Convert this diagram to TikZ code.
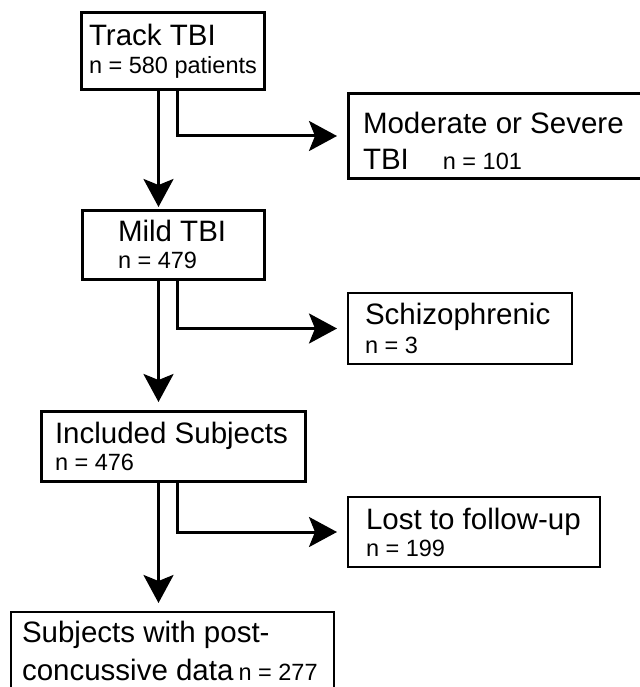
\documentclass[tikz,border=0pt]{standalone}
\usepackage{fontspec}
\setmainfont{Liberation Sans}
\usetikzlibrary{arrows.meta}

\hyphenpenalty=10000
\newcommand{\nsize}{\fontsize{23.5}{28}\selectfont}

\begin{document}
\begin{tikzpicture}[x=1pt, y=-1pt,
        caja/.style={draw, line width=3pt, anchor=north west, outer sep=0pt,
            inner ysep=0pt, align=flush left, font=\fontsize{29.5}{28}\selectfont},
        cajafina/.style={caja, line width=1.5pt},
        flujo/.style={line width=3pt, -{Stealth[length=28pt, width=30pt, inset=6pt]}}
    ]
        \useasboundingbox (0,0) rectangle (639,687);

        % Columna principal
        \node[caja, inner xsep=8pt, text width=167pt, minimum height=77pt] (total) at (81,13)
            {\mbox{Track TBI}\\\nsize\mbox{n = 580 patients}};
        \node[caja, inner xsep=36pt, text width=110pt, minimum height=69pt] (leve) at (82,210)
            {\mbox{Mild TBI}\\[-1pt]\nsize\mbox{n = 479}};
        \node[caja, inner xsep=14pt, text width=236pt, minimum height=70pt] (incluidos) at (41,411)
            {\mbox{Included Subjects}\\[-1pt]\nsize\mbox{n = 476}};
        \node[cajafina, inner xsep=11pt, text width=301pt, minimum height=77pt] (final) at (11,612)
            {\mbox{Subjects with post-}\\[10pt]\mbox{concussive data\hspace*{5pt}{\nsize n = 277}}};

        % Excluidos
        \node[caja, inner xsep=15pt, text width=270pt, minimum height=84pt] (grave) at (348,94)
            {\rule{0pt}{31pt}\mbox{Moderate or Severe}\\[8pt]\mbox{TBI\hspace*{34pt}{\nsize n = 101}}};
        \node[cajafina, inner xsep=17pt, text width=190pt, minimum height=71pt] (esquizo) at (348,293)
            {\mbox{Schizophrenic}\\[1pt]\nsize\mbox{n = 3}};
        \node[cajafina, inner xsep=18pt, text width=216pt, minimum height=70pt] (perdidos) at (348,497)
            {\mbox{Lost to follow-up}\\[-1pt]\nsize\mbox{n = 199}};

        % Flechas
        \coordinate (eje) at (158.5,0);
        \coordinate (rama) at (177.5,0);

        \draw[flujo, shorten >=3pt] (total.south -| eje) -- (leve.north -| eje);
        \draw[flujo, shorten >=11pt] (total.south -| rama) |- (grave.west);
        \draw[flujo, shorten >=9pt] (leve.south -| eje) -- (incluidos.north -| eje);
        \draw[flujo, shorten >=11pt] (leve.south -| rama) |- (esquizo.west);
        \draw[flujo, shorten >=9pt] (incluidos.south -| eje) -- (final.north -| eje);
        \draw[flujo, shorten >=11pt] (incluidos.south -| rama) |- (perdidos.west);
    \end{tikzpicture}
\end{document}
